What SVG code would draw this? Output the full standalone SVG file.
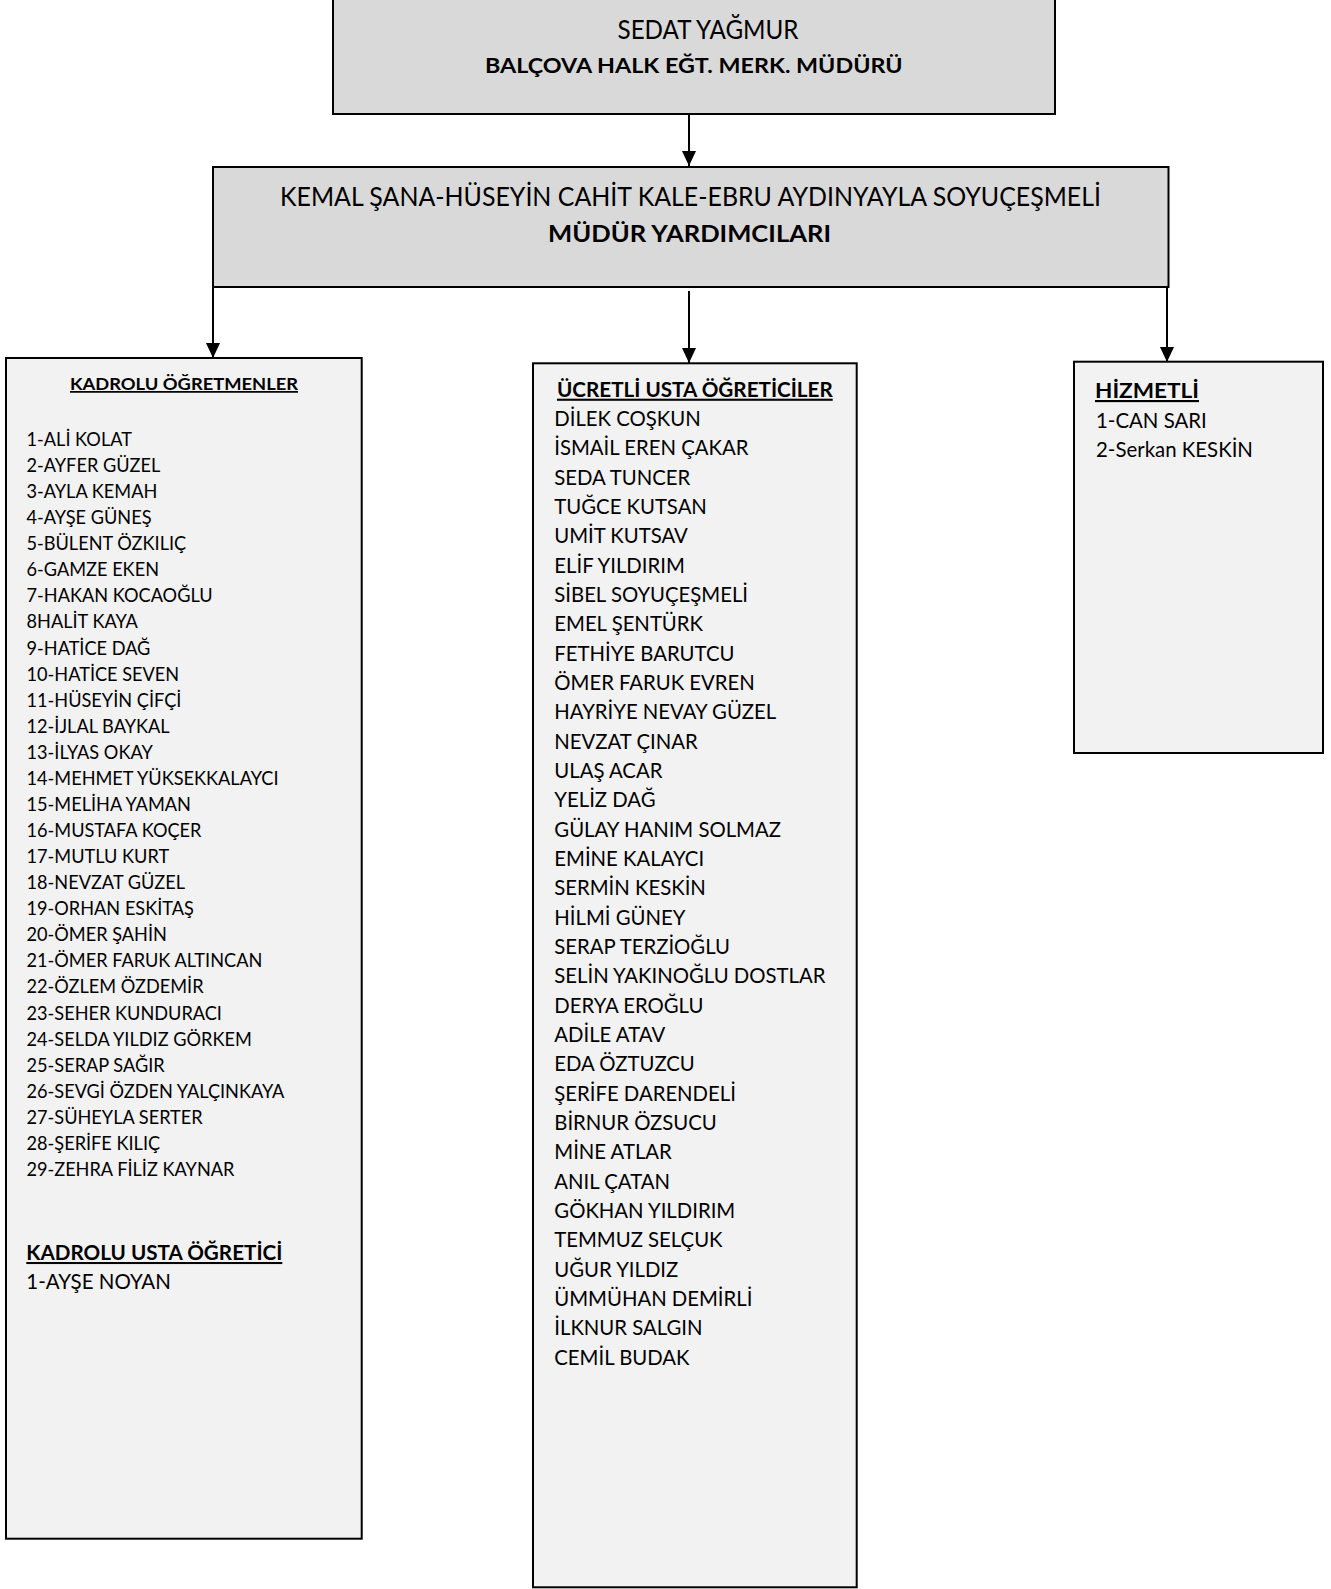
<svg xmlns="http://www.w3.org/2000/svg" width="1331" height="1589" viewBox="0 0 1331 1589">
<style>
.box{stroke:#000;stroke-width:2}
.hd{fill:#d9d9d9}
.ls{fill:#f2f2f2}
text{font-family:Lato,"Noto Sans",sans-serif;fill:#000}
.b{font-weight:bold}
.u{text-decoration:underline}
.l{font-size:19px}
.m{font-size:21.5px}
.conn{stroke:#000;stroke-width:2;fill:none}
</style>
<defs>
<marker id="ah" viewBox="0 0 15 14" refX="15" refY="7" markerWidth="15" markerHeight="14" markerUnits="userSpaceOnUse" orient="auto">
<path d="M0,0 L15,7 L0,14 z" fill="#000"/>
</marker>
</defs>
<rect width="1331" height="1589" fill="#fff"/>
<g id="connectors">
<line class="conn" x1="689" y1="114" x2="689" y2="166" marker-end="url(#ah)"/>
<line class="conn" x1="213" y1="287" x2="213" y2="358" marker-end="url(#ah)"/>
<line class="conn" x1="689" y1="291" x2="689" y2="363" marker-end="url(#ah)"/>
<line class="conn" x1="1167" y1="287" x2="1167" y2="362" marker-end="url(#ah)"/>
</g>
<g id="mudur">
<rect class="box hd" x="333" y="-3" width="722" height="117"/>
<text x="617.5" y="39.3" font-size="26.5" textLength="181" lengthAdjust="spacingAndGlyphs">SEDAT YAĞMUR</text>
<text class="b" x="485" y="72.7" font-size="21" textLength="417.6" lengthAdjust="spacingAndGlyphs">BALÇOVA HALK EĞT. MERK. MÜDÜRÜ</text>
</g>
<g id="yardimcilar">
<rect class="box hd" x="213" y="167" width="955.5" height="120"/>
<text x="280" y="205.7" font-size="26.5" textLength="821" lengthAdjust="spacingAndGlyphs">KEMAL ŞANA-HÜSEYİN CAHİT KALE-EBRU AYDINYAYLA SOYUÇEŞMELİ</text>
<text class="b" x="548" y="241.7" font-size="23" textLength="283" lengthAdjust="spacingAndGlyphs">MÜDÜR YARDIMCILARI</text>
</g>
<g id="kadrolu">
<rect class="box ls" x="6" y="358" width="355.7" height="1180.7"/>
<text class="b u" x="70" y="390" font-size="17.5" textLength="228" lengthAdjust="spacingAndGlyphs">KADROLU ÖĞRETMENLER</text>
<g class="l" transform="translate(26.5 0) scale(0.956 1)">
<text x="0" y="446">1-ALİ KOLAT</text>
<text x="0" y="472.07">2-AYFER GÜZEL</text>
<text x="0" y="498.14">3-AYLA KEMAH</text>
<text x="0" y="524.21">4-AYŞE GÜNEŞ</text>
<text x="0" y="550.28">5-BÜLENT ÖZKILIÇ</text>
<text x="0" y="576.35">6-GAMZE EKEN</text>
<text x="0" y="602.42">7-HAKAN KOCAOĞLU</text>
<text x="0" y="628.49">8HALİT KAYA</text>
<text x="0" y="654.56">9-HATİCE DAĞ</text>
<text x="0" y="680.63">10-HATİCE SEVEN</text>
<text x="0" y="706.7">11-HÜSEYİN ÇİFÇİ</text>
<text x="0" y="732.77">12-İJLAL BAYKAL</text>
<text x="0" y="758.84">13-İLYAS OKAY</text>
<text x="0" y="784.91">14-MEHMET YÜKSEKKALAYCI</text>
<text x="0" y="810.98">15-MELİHA YAMAN</text>
<text x="0" y="837.05">16-MUSTAFA KOÇER</text>
<text x="0" y="863.12">17-MUTLU KURT</text>
<text x="0" y="889.19">18-NEVZAT GÜZEL</text>
<text x="0" y="915.26">19-ORHAN ESKİTAŞ</text>
<text x="0" y="941.33">20-ÖMER ŞAHİN</text>
<text x="0" y="967.4">21-ÖMER FARUK ALTINCAN</text>
<text x="0" y="993.47">22-ÖZLEM ÖZDEMİR</text>
<text x="0" y="1019.54">23-SEHER KUNDURACI</text>
<text x="0" y="1045.61">24-SELDA YILDIZ GÖRKEM</text>
<text x="0" y="1071.68">25-SERAP SAĞIR</text>
<text x="0" y="1097.75">26-SEVGİ ÖZDEN YALÇINKAYA</text>
<text x="0" y="1123.82">27-SÜHEYLA SERTER</text>
<text x="0" y="1149.89">28-ŞERİFE KILIÇ</text>
<text x="0" y="1175.96">29-ZEHRA FİLİZ KAYNAR</text>
</g>
<text class="b u" x="26.3" y="1260" font-size="20.5" textLength="256" lengthAdjust="spacingAndGlyphs">KADROLU USTA ÖĞRETİCİ</text>
<text class="m" x="0" y="1289" transform="translate(26.3 0) scale(0.953 1)">1-AYŞE NOYAN</text>
</g>
<g id="ucretli">
<rect class="box ls" x="533" y="363.3" width="323.7" height="1224"/>
<text class="b u" x="557" y="396.7" font-size="21" textLength="275.7" lengthAdjust="spacingAndGlyphs">ÜCRETLİ USTA ÖĞRETİCİLER</text>
<g class="m" transform="translate(554.3 0) scale(0.945 1)">
<text x="0" y="426">DİLEK COŞKUN</text>
<text x="0" y="455.33">İSMAİL EREN ÇAKAR</text>
<text x="0" y="484.66">SEDA TUNCER</text>
<text x="0" y="513.99">TUĞCE KUTSAN</text>
<text x="0" y="543.32">UMİT KUTSAV</text>
<text x="0" y="572.65">ELİF YILDIRIM</text>
<text x="0" y="601.98">SİBEL SOYUÇEŞMELİ</text>
<text x="0" y="631.31">EMEL ŞENTÜRK</text>
<text x="0" y="660.64">FETHİYE BARUTCU</text>
<text x="0" y="689.97">ÖMER FARUK EVREN</text>
<text x="0" y="719.3">HAYRİYE NEVAY GÜZEL</text>
<text x="0" y="748.63">NEVZAT ÇINAR</text>
<text x="0" y="777.96">ULAŞ ACAR</text>
<text x="0" y="807.29">YELİZ DAĞ</text>
<text x="0" y="836.62">GÜLAY HANIM SOLMAZ</text>
<text x="0" y="865.95">EMİNE KALAYCI</text>
<text x="0" y="895.28">SERMİN KESKİN</text>
<text x="0" y="924.61">HİLMİ GÜNEY</text>
<text x="0" y="953.94">SERAP TERZİOĞLU</text>
<text x="0" y="983.27">SELİN YAKINOĞLU DOSTLAR</text>
<text x="0" y="1012.6">DERYA EROĞLU</text>
<text x="0" y="1041.93">ADİLE ATAV</text>
<text x="0" y="1071.26">EDA ÖZTUZCU</text>
<text x="0" y="1100.59">ŞERİFE DARENDELİ</text>
<text x="0" y="1129.92">BİRNUR ÖZSUCU</text>
<text x="0" y="1159.25">MİNE ATLAR</text>
<text x="0" y="1188.58">ANIL ÇATAN</text>
<text x="0" y="1217.91">GÖKHAN YILDIRIM</text>
<text x="0" y="1247.24">TEMMUZ SELÇUK</text>
<text x="0" y="1276.57">UĞUR YILDIZ</text>
<text x="0" y="1305.9">ÜMMÜHAN DEMİRLİ</text>
<text x="0" y="1335.23">İLKNUR SALGIN</text>
<text x="0" y="1364.56">CEMİL BUDAK</text>
</g>
</g>
<g id="hizmetli">
<rect class="box ls" x="1074" y="361.7" width="249" height="391.3"/>
<text class="b u" x="1095" y="398" font-size="21.5" textLength="104" lengthAdjust="spacingAndGlyphs">HİZMETLİ</text>
<g class="m" transform="translate(1096 0) scale(0.95 1)">
<text x="0" y="428.3">1-CAN SARI</text>
<text x="0" y="457.3">2-Serkan KESKİN</text>
</g>
</g>
</svg>
